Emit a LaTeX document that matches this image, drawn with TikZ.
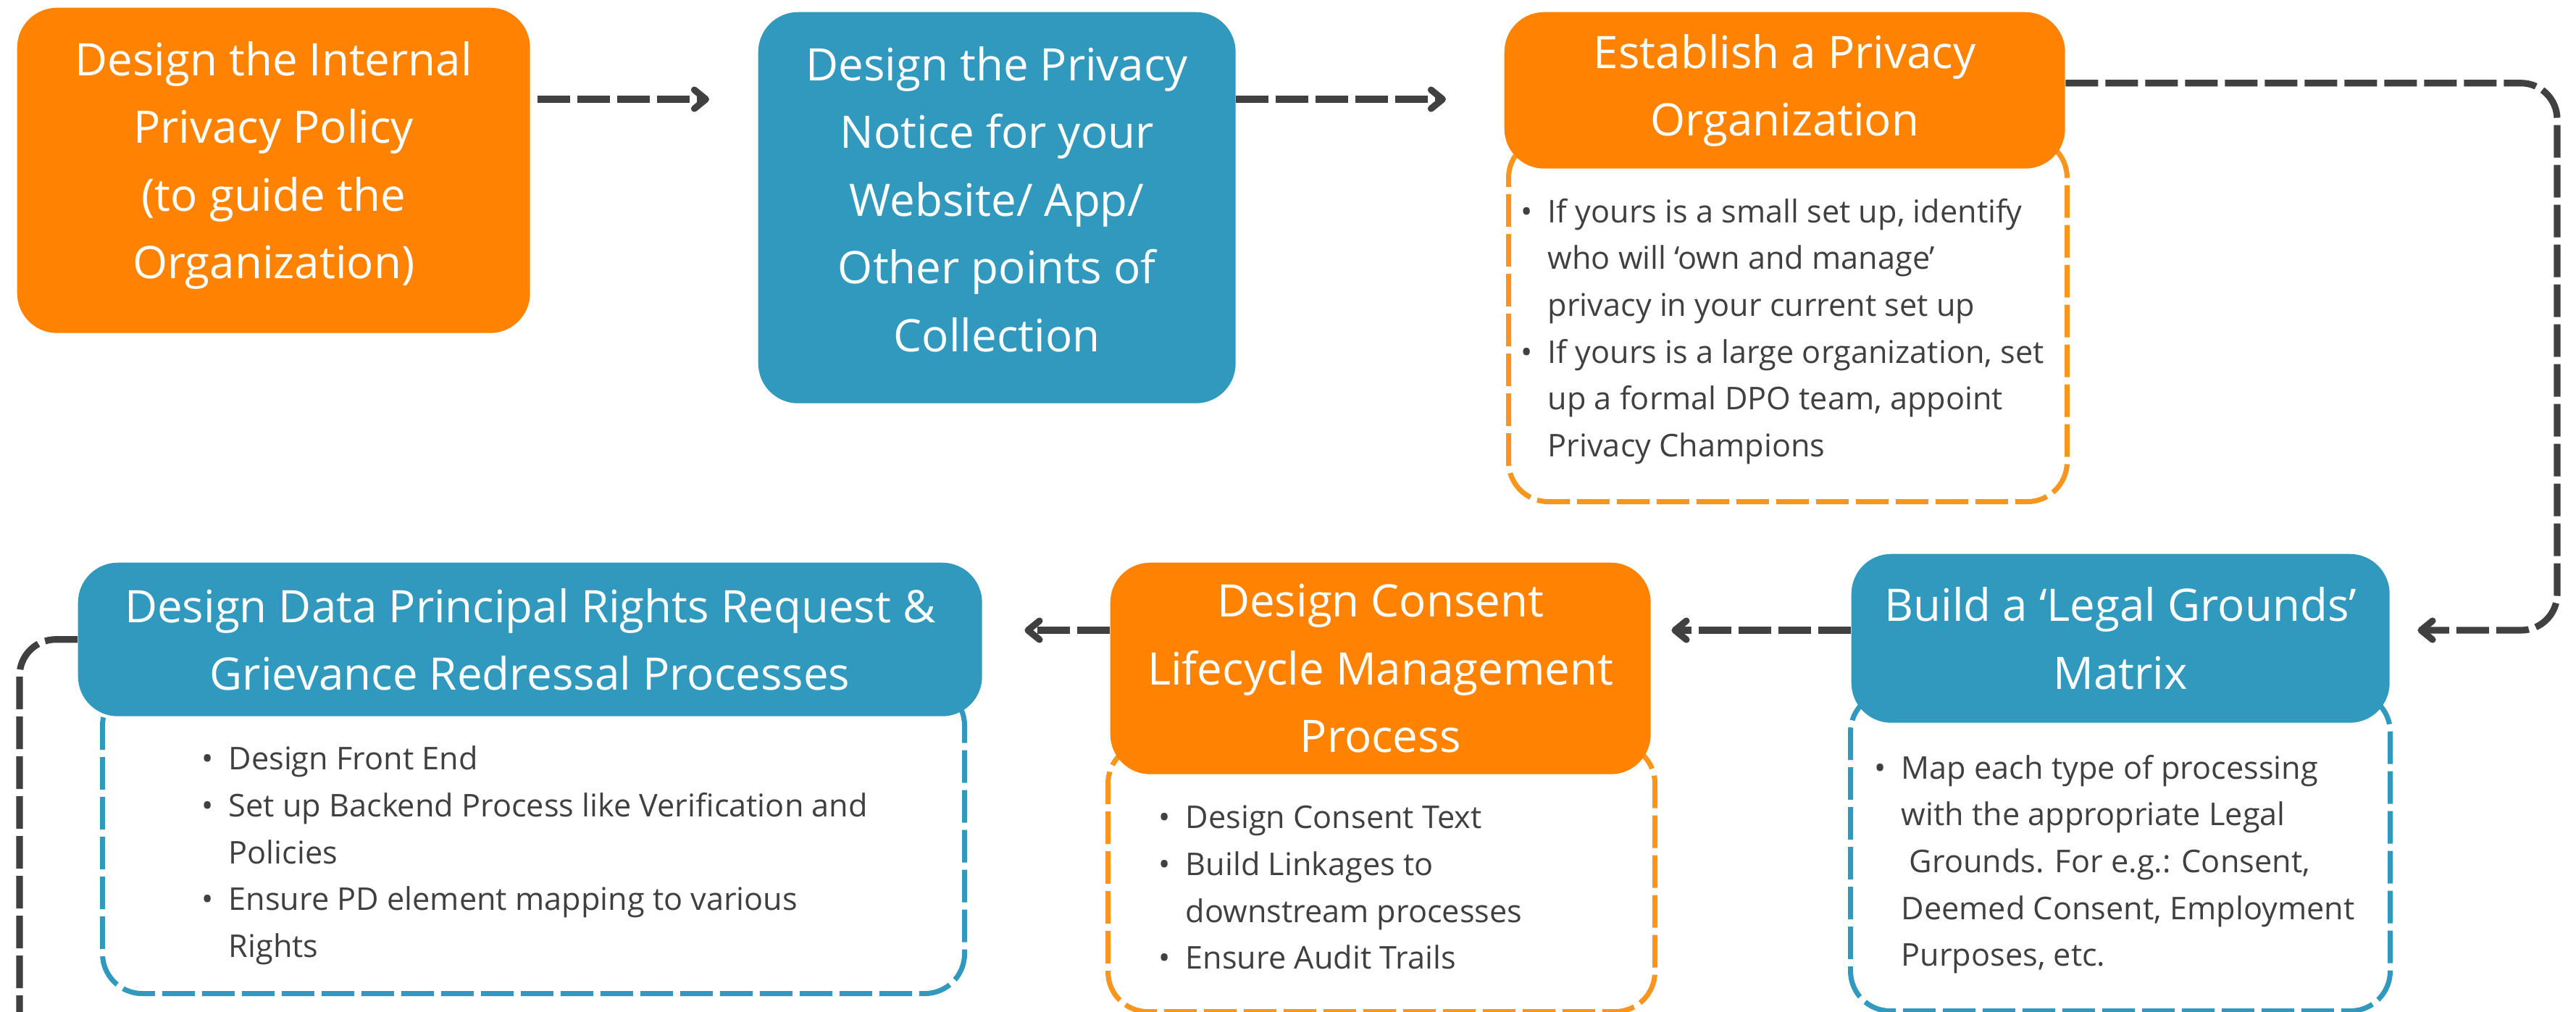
\documentclass[tikz,border=0pt]{standalone}
\usepackage{fontspec}
\setmainfont{Open Sans}
\usetikzlibrary{positioning}
\usetikzlibrary{arrows.meta}

\definecolor{porange}{HTML}{FF8300}
\definecolor{plorange}{HTML}{F7951E}
\definecolor{pblue}{HTML}{3199BD}
\definecolor{pgray}{HTML}{404040}

\newcommand{\pbullet}{\makebox[3.7mm][l]{\textbullet}}
\newcommand{\pindent}{\hspace*{3.7mm}}

\tikzset{
  head/.style={rounded corners=0.55cm, text=white, align=center, anchor=north west,
    inner sep=0pt, font=\fontsize{17.6}{26.6}\selectfont},
  orangehead/.style={head, fill=porange},
  bluehead/.style={head, fill=pblue},
  body/.style={rounded corners=0.55cm, line width=2pt, dash pattern=on 0.45cm off 0.1cm,
    fill=white, anchor=north west, inner sep=0pt},
  orangebody/.style={body, draw=plorange},
  bluebody/.style={body, draw=pblue},
  bodytxt/.style={align=left, text=pgray, inner sep=0pt, font=\fontsize{12.3}{18.4}\selectfont},
  link/.style={draw=pgray, line width=2.6pt, dash pattern=on 0.45cm off 0.1cm},
  flow/.style={link, -{Straight Barb[length=1.6mm, width=2.6mm, round]}}
}

\begin{document}
\begin{tikzpicture}

\useasboundingbox (0,0) rectangle (35.56,-13.96);

\pgfmathsetmacro{\toprow}{-1.37};
\pgfmathsetmacro{\botrow}{-8.70};
\coordinate (toprow) at (0,\toprow);
\coordinate (botrow) at (0,\botrow);
\coordinate (rturn) at (35.30,\botrow);
\coordinate (lturn) at (0.27,-14.50);

% dashed bodies behind the headers
\node[orangebody, minimum width=7.71cm, minimum height=5.02cm] (b3body) at (20.79,-1.87) {};
\node[bluebody, minimum width=7.45cm, minimum height=4.40cm] (b4body) at (25.51,-9.52) {};
\node[orangebody, minimum width=7.55cm, minimum height=3.70cm] (b5body) at (15.26,-10.23) {};
\node[bluebody, minimum width=11.90cm, minimum height=4.25cm] (b6body) at (1.38,-9.43) {};

% headers
\node[orangehead, minimum width=7.08cm, minimum height=4.49cm, text depth=0.28cm] (b1) at (0.23,-0.10)
  {Design the Internal\\Privacy Policy\\(to guide the\\Organization)};
\node[bluehead, minimum width=6.59cm, minimum height=5.40cm, text depth=0.24cm] (b2) at (10.46,-0.16)
  {Design the Privacy\\Notice for your\\Website/ App/\\Other points of\\Collection};
\node[orangehead, minimum width=7.74cm, minimum height=2.16cm] (b3) at (20.76,-0.16)
  {Establish a Privacy\\Organization};
\node[bluehead, minimum width=7.43cm, minimum height=2.33cm] (b4) at (25.55,-7.64)
  {Build a ‘Legal Grounds’\\Matrix};
\node[orangehead, minimum width=7.46cm, minimum height=2.92cm] (b5) at (15.32,-7.76)
  {Design Consent\\Lifecycle Management\\Process};
\node[bluehead, minimum width=12.48cm, minimum height=2.12cm] (b6) at (1.07,-7.76)
  {Design Data Principal Rights Request \&\\Grievance Redressal Processes};

% body texts
\node[bodytxt, below right=0.40cm and 0.23cm of b3.south west] (t3)
  {\pbullet If yours is a small set up, identify\\
   \pindent who will ‘own and manage’\\
   \pindent privacy in your current set up\\
   \pbullet If yours is a large organization, set\\
   \pindent up a formal DPO team, appoint\\
   \pindent Privacy Champions};
\node[bodytxt, below right=0.43cm and 0.32cm of b4.south west] (t4)
  {\pbullet Map each type of processing\\
   \pindent with the appropriate Legal\\
   \pindent\ Grounds. For e.g.: Consent,\\
   \pindent Deemed Consent, Employment\\
   \pindent Purposes, etc.};
\node[bodytxt, below right=0.42cm and 0.67cm of b5.south west] (t5)
  {\pbullet Design Consent Text\\
   \pbullet Build Linkages to\\
   \pindent downstream processes\\
   \pbullet Ensure Audit Trails};
\node[bodytxt, below right=0.40cm and 1.71cm of b6.south west] (t6)
  {\pbullet Design Front End\\
   \pbullet Set up Backend Process like Verification and\\
   \pindent Policies\\
   \pbullet Ensure PD element mapping to various\\
   \pindent Rights};

% connectors
\draw[flow, shorten <=1mm, shorten >=6.7mm] (b1.east |- toprow) -- (b2.west |- toprow);
\draw[flow, shorten >=8mm] (b2.east |- toprow) -- (b3.west |- toprow);
\draw[flow, rounded corners=0.5cm, shorten >=3.8mm] ([yshift=1mm]b3.east) -| (rturn) -- (b4.east |- rturn);
\draw[flow, shorten >=2.8mm] (b4.west |- botrow) -- (b5.east |- botrow);
\draw[flow, shorten >=5.8mm] (b5.west |- botrow) -- (b6.east |- botrow);
\draw[link, rounded corners=0.5cm] (b6.west) -| (lturn);

\end{tikzpicture}
\end{document}
